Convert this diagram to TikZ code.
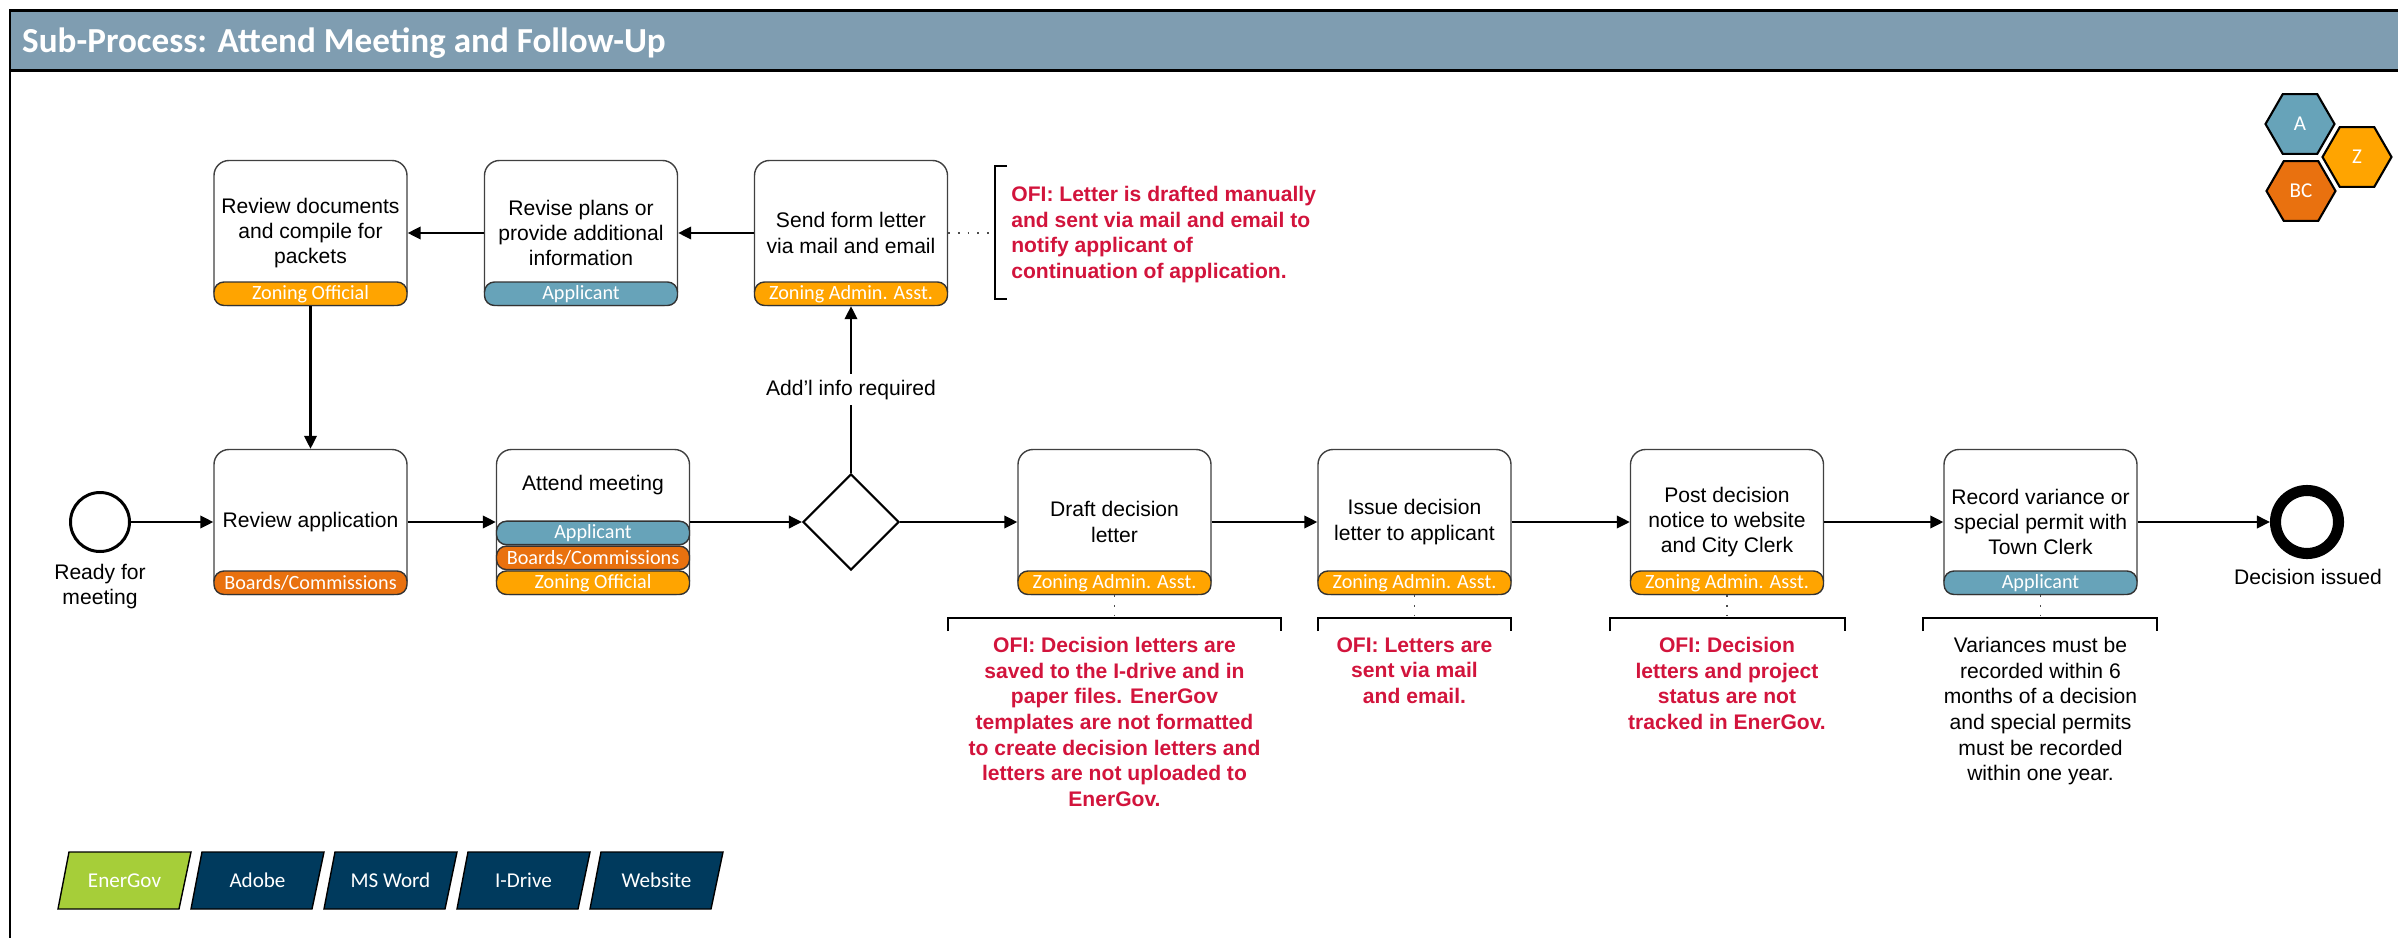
\documentclass[tikz,border=0pt]{standalone}
\usepackage{fontspec}
\setmainfont{Liberation Sans}
\newfontfamily\calibri{Carlito}
\usepackage{xcolor}
\usetikzlibrary{positioning,arrows.meta,shapes.geometric}

\definecolor{hdrgrey}{HTML}{7F9DB1}
\definecolor{applicant}{HTML}{67A3B9}
\definecolor{boards}{HTML}{E9710F}
\definecolor{zoning}{HTML}{FFA400}
\definecolor{energov}{HTML}{A6CE39}
\definecolor{toolblue}{HTML}{003A5D}
\definecolor{ofired}{HTML}{D2143C}

\begin{document}
\begin{tikzpicture}[
    every node/.style={font=\fontsize{12}{14.3}\selectfont},
    task/.style={draw=black!75, line width=0.8pt, fill=white, rounded corners=0.3cm,
        minimum width=3.86cm, minimum height=2.9cm, align=center, inner sep=1pt},
    role/.style={draw=black!80, line width=0.8pt, rounded corners=0.2cm,
        minimum width=3.86cm, minimum height=0.47cm, inner sep=0pt, text=white,
        font=\calibri\fontsize{11.5}{12}\selectfont},
    flow/.style={line width=1.2pt, -{Triangle[length=0.26cm,width=0.25cm]}},
    assoc/.style={black!70, line width=1pt, dash pattern=on 1pt off 4.5pt},
    bracket/.style={line width=1.2pt},
    ofi/.style={text=ofired, font=\bfseries\fontsize{12}{14.6}\selectfont, align=center, inner sep=0pt},
    note/.style={align=center, inner sep=0pt, font=\fontsize{12}{14.6}\selectfont},
    gate/.style={diamond, draw, line width=1.2pt, fill=white, minimum width=1.92cm,
        minimum height=1.92cm, inner sep=0pt},
    event/.style={circle, draw, inner sep=0pt, fill=white},
    hexa/.style={regular polygon, regular polygon sides=6, draw=black, line width=1.2pt,
        minimum size=1.38cm, inner sep=0pt, text=white, font=\calibri\fontsize{12}{12}\selectfont},
    tool/.style={draw=black, line width=0.8pt},
    tooltext/.style={text=white, font=\calibri\fontsize{12}{12}\selectfont},
]
\useasboundingbox (0,0) rectangle (47.96,-18.76);

% =====================================================================
% Title bar and frame
% =====================================================================
\draw[line width=1.4pt, fill=hdrgrey] (0.2,-0.21) rectangle (48.5,-1.41);
\draw[line width=1.4pt] (0.2,-1.41) -- (0.2,-19);
\node[anchor=west, text=white, font=\calibri\bfseries\fontsize{20}{21}\selectfont] (title)
    at (0.32,-0.86) {Sub-Process: Attend Meeting and Follow-Up};

% role key
\node[hexa, fill=applicant] (hex-a) at (46.0,-2.48) {A};
\node[hexa, fill=zoning] (hex-z) at (47.14,-3.14) {Z};
\node[hexa, fill=boards] (hex-bc) at (46.02,-3.82) {BC};

% =====================================================================
% Main line: meeting to decision
% =====================================================================
\node[event, line width=1.7pt, minimum size=1.18cm] (start) at (2.0,-10.44) {};
\node[align=center] (start-lbl) at (2.0,-11.73) {Ready for\\meeting};

\node[task] (review) at (6.21,-10.44) {Review application};
\node[role, fill=boards, anchor=south] (review-bc) at (review.south) {Boards/Commissions};

\node[task] (attend) at (11.86,-10.44) {};
\node (attend-txt) at (11.86,-9.7) {Attend meeting};
\node[role, fill=zoning, anchor=south] (attend-zo) at (attend.south) {Zoning Official};
\node[role, fill=boards, above=0pt of attend-zo] (attend-bc) {Boards/Commissions};
\node[role, fill=applicant, above=0pt of attend-bc] (attend-ap) {Applicant};

\node[gate] (gate) at (17.02,-10.44) {};

\node[task] (draft) at (22.29,-10.44) {Draft decision\\letter};
\node[role, fill=zoning, anchor=south] (draft-zo) at (draft.south) {Zoning Admin. Asst.};

\node[task] (issue) at (28.29,-10.44) {Issue decision\\letter to applicant};
\node[role, fill=zoning, anchor=south] (issue-zo) at (issue.south) {Zoning Admin. Asst.};

\node[task] (post) at (34.54,-10.44) {Post decision\\notice to website\\and City Clerk};
\node[role, fill=zoning, anchor=south] (post-zo) at (post.south) {Zoning Admin. Asst.};

\node[task] (record) at (40.81,-10.44) {Record variance or\\special permit with\\Town Clerk};
\node[role, fill=applicant, anchor=south] (record-ap) at (record.south) {Applicant};

\node[event, line width=6.3pt, minimum size=1.26cm] (finish) at (46.14,-10.44) {};
\node (finish-lbl) at (46.16,-11.54) {Decision issued};

% =====================================================================
% Loop back for additional information
% =====================================================================
\node[task] (sendltr) at (17.02,-4.66) {Send form letter\\via mail and email};
\node[role, fill=zoning, anchor=south] (sendltr-zo) at (sendltr.south) {Zoning Admin. Asst.};

\node[task] (revise) at (11.62,-4.66) {Revise plans or\\provide additional\\information};
\node[role, fill=applicant, anchor=south] (revise-ap) at (revise.south) {Applicant};

\node[task] (docs) at (6.21,-4.66) {Review documents\\and compile for\\packets};
\node[role, fill=zoning, anchor=south] (docs-zo) at (docs.south) {Zoning Official};

% sequence flows
\draw[flow] (start) -- (review);
\draw[flow] (review) -- (attend);
\draw[flow] (attend) -- (gate);
\draw[flow] (gate) -- (draft);
\draw[flow] (draft) -- (issue);
\draw[flow] (issue) -- (post);
\draw[flow] (post) -- (record);
\draw[flow] (record) -- (finish);
\draw[flow] (gate) -- node[fill=white, inner sep=3pt] (gate-lbl) {Add’l info required} (sendltr);
\draw[flow] (sendltr) -- (revise);
\draw[flow] (revise) -- (docs);
\draw[flow] (docs) -- (review);

% =====================================================================
% Annotations
% =====================================================================
\coordinate (sendltr-br) at (19.9,-4.66);
\draw[bracket] (20.14,-3.32) -| (19.9,-5.98) -- (20.14,-5.98);
\draw[assoc] (sendltr) -- (sendltr-br);
\node[ofi, align=left, anchor=north west] (ofi-send) at (20.22,-3.72)
    {OFI: Letter is drafted manually\\and sent via mail and email to\\notify applicant of\\continuation of application.};

% brackets under the main line
\foreach \n/\a/\b/\x in {draft/18.96/25.62/22.29, issue/26.36/30.22/28.29,
                         post/32.2/36.9/34.54, record/38.46/43.14/40.81} {
    \coordinate (\n-br) at (\x,-12.36);
    \draw[bracket] (\a,-12.62) |- (\b,-12.36) -- (\b,-12.62);
    \draw[assoc] (\n) -- (\n-br);
}
\node[ofi, anchor=north] (ofi-draft) at (22.29,-12.74)
    {OFI: Decision letters are\\saved to the I-drive and in\\paper files. EnerGov\\templates are not formatted\\to create decision letters and\\letters are not uploaded to\\EnerGov.};
\node[ofi, anchor=north] (ofi-issue) at (28.29,-12.74)
    {OFI: Letters are\\sent via mail\\and email.};
\node[ofi, anchor=north] (ofi-post) at (34.54,-12.74)
    {OFI: Decision\\letters and project\\status are not\\tracked in EnerGov.};
\node[note, anchor=north] (note-record) at (40.81,-12.74)
    {Variances must be\\recorded within 6\\months of a decision\\and special permits\\must be recorded\\within one year.};

% =====================================================================
% Systems used
% =====================================================================
\foreach \t/\c [count=\i from 0] in {EnerGov/energov, Adobe/toolblue, MS Word/toolblue,
                                     I-Drive/toolblue, Website/toolblue} {
    \pgfmathsetmacro{\xc}{2.49+2.66*\i}
    \draw[tool, fill=\c] (\xc-1.33,-18.18) -- (\xc-1.11,-17.04) -- (\xc+1.33,-17.04)
        -- (\xc+1.09,-18.18) -- cycle;
    \node[tooltext] (tool-\i) at (\xc,-17.61) {\t};
}
\end{tikzpicture}
\end{document}
